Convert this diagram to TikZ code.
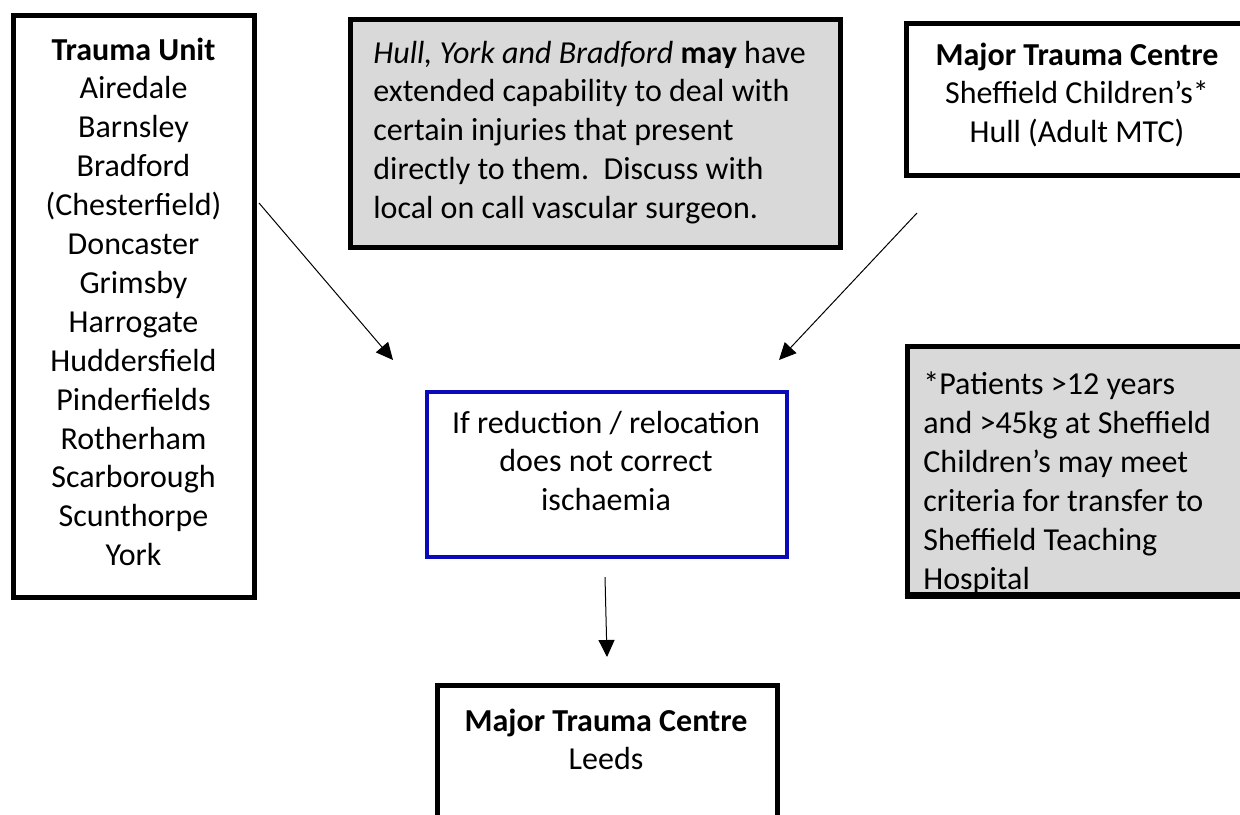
\documentclass[tikz,border=0pt]{standalone}
\usepackage{fontspec}
\setmainfont{Carlito}
\usetikzlibrary{positioning, arrows.meta}

\definecolor{notegray}{RGB}{217,217,217}
\definecolor{condblue}{RGB}{10,10,185}

\tikzset{
  frame/.style={draw=black, line width=2.5pt, rectangle, inner sep=0pt},
  note/.style={frame, fill=notegray},
  txt/.style={inner sep=0pt, font=\fontsize{16}{19.45}\selectfont},
  link/.style={-{Triangle[length=8.5pt, width=8pt]}, line width=0.5pt},
}

\begin{document}
\begin{tikzpicture}[x=0.5pt, y=-0.5pt]
      \useasboundingbox (0,0) rectangle (1240,814);
      \clip (0,0) rectangle (1240,814);

      % boxes
      \node[frame, minimum width=120.5pt, minimum height=291pt] (unit) at (133.5,306) {};
      \node[note, minimum width=245pt, minimum height=114pt] (capab) at (595,133) {};
      \node[frame, minimum width=177pt, minimum height=76pt] (mtcs) at (1083,99) {};
      \node[note, minimum width=176.5pt, minimum height=124pt] (foot) at (1083.5,470) {};
      \node[frame, draw=condblue, line width=2.3pt, minimum width=180pt, minimum height=82.5pt] (cond) at (607,474.5) {};
      \node[frame, minimum width=170pt, minimum height=72.5pt] (leeds) at (607,757.5) {};

      % texts (anchored on the baseline of their last line)
      \node[txt, align=center, anchor=base] (unittxt) at (133.5,565.7)
        {\textbf{Trauma Unit}\\Airedale\\Barnsley\\Bradford\\(Chesterfield)\\Doncaster\\Grimsby\\Harrogate\\Huddersfield\\Pinderfields\\Rotherham\\Scarborough\\Scunthorpe\\York};
      \node[txt, align=left, anchor=base west] (capabtxt) at (373,218.6)
        {\textit{Hull, York and Bradford} \textbf{may} have\\extended capability to deal with\\certain injuries that present\\directly to them.\ \ Discuss with\\local on call vascular surgeon.};
      \node[txt, align=center, anchor=base] (mtcstxt) at (1077,142.8)
        {\textbf{Major Trauma Centre}\\Sheffield Children’s*\\Hull (Adult MTC)};
      \begin{scope}
        \clip (foot.south west) rectangle (foot.north east);
        \node[txt, align=left, anchor=base west] (foottxt) at (923,589)
          {*Patients >12 years\\and >45kg at Sheffield\\Children’s may meet\\criteria for transfer to\\Sheffield Teaching\\Hospital};
      \end{scope}
      \node[txt, align=center, anchor=base] (condtxt) at (606,510.8)
        {If reduction / relocation\\does not correct\\ischaemia};
      \node[txt, align=center, anchor=base] (leedstxt) at (606,769.9)
        {\textbf{Major Trauma Centre}\\Leeds};

      % redraw bottom edge of the note over its text
      \draw[line width=2.5pt] (foot.south west) -- (foot.south east);

      % arrows
      \coordinate (unitout) at (259,203);
      \coordinate (unitin) at (393,360);
      \coordinate (mtcsout) at (917,213);
      \coordinate (mtcsin) at (779,360);
      \coordinate (condout) at (605,577);
      \coordinate (leedsin) at (607,657);
      \draw[link] (unitout) -- (unitin);
      \draw[link] (mtcsout) -- (mtcsin);
      \draw[link] (condout) -- (leedsin);
    \end{tikzpicture}
\end{document}
